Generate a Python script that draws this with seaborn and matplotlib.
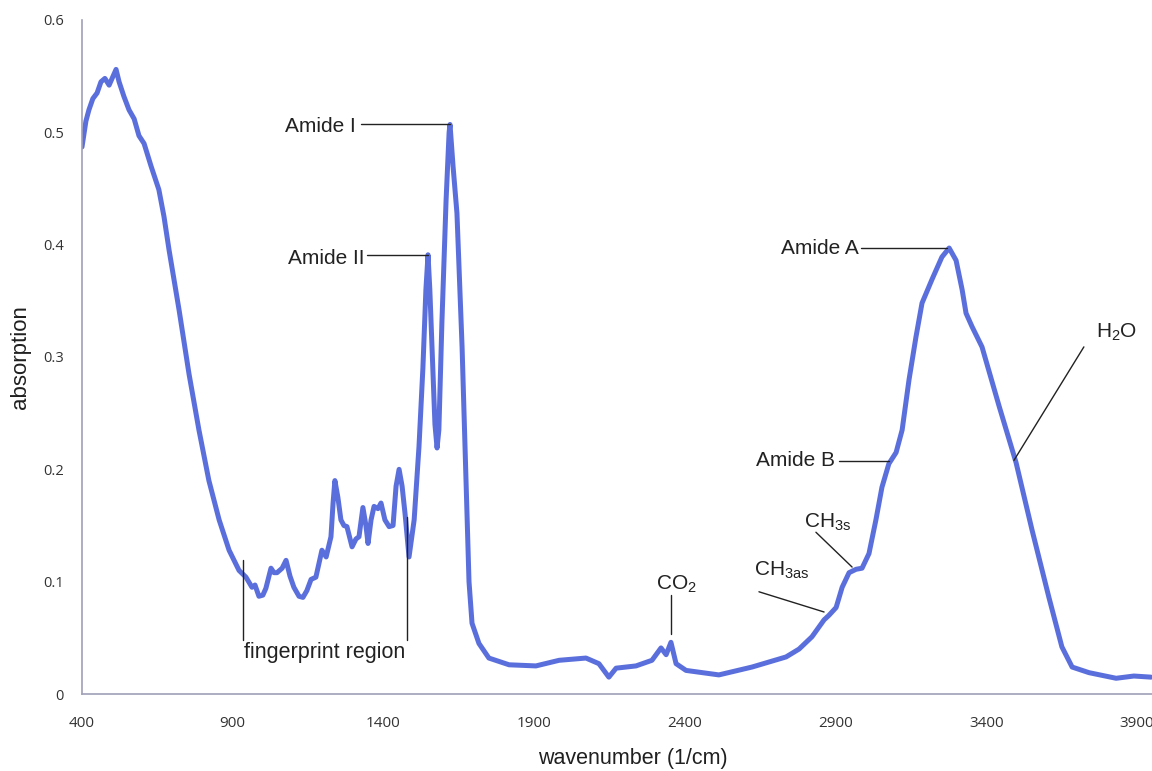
import matplotlib
matplotlib.use("Agg")
import matplotlib.pyplot as plt
import seaborn as sns
import pandas as pd

# ---- data ----
wavenumber = [400, 413, 423, 436, 450, 463, 476, 490, 503, 513, 523, 539, 556, 573, 589, 606,
              629, 655, 672, 689, 722, 755, 788, 821, 855, 888, 921, 944, 964, 974, 987, 1000,
              1010, 1027, 1037, 1047, 1064, 1077, 1090, 1103, 1120, 1133, 1146, 1160, 1176, 1196,
              1210, 1226, 1233, 1239, 1249, 1259, 1269, 1279, 1296, 1309, 1319, 1332, 1342, 1349,
              1359, 1369, 1382, 1392, 1405, 1419, 1432, 1442, 1452, 1462, 1472, 1485, 1502, 1518,
              1531, 1541, 1548, 1554, 1564, 1571, 1578, 1584, 1594, 1608, 1618, 1621, 1631, 1644,
              1661, 1674, 1684, 1694, 1717, 1750, 1817, 1906, 1983, 2072, 2115, 2148, 2172, 2238,
              2291, 2321, 2338, 2354, 2371, 2404, 2513, 2623, 2736, 2779, 2822, 2862, 2878, 2902,
              2922, 2945, 2968, 2988, 3011, 3034, 3054, 3077, 3101, 3121, 3144, 3167, 3187, 3220,
              3253, 3277, 3300, 3320, 3333, 3353, 3386, 3443, 3499, 3552, 3608, 3651, 3685, 3741,
              3831, 3890, 3947]
absorption = [0.487, 0.510, 0.520, 0.530, 0.535, 0.545, 0.548, 0.542, 0.550, 0.556, 0.545, 0.532,
              0.520, 0.512, 0.497, 0.490, 0.470, 0.449, 0.425, 0.395, 0.342, 0.285, 0.235, 0.190,
              0.155, 0.128, 0.110, 0.104, 0.095, 0.097, 0.087, 0.088, 0.094, 0.112, 0.108, 0.108,
              0.112, 0.119, 0.105, 0.095, 0.087, 0.086, 0.092, 0.102, 0.104, 0.128, 0.122, 0.140,
              0.170, 0.190, 0.175, 0.155, 0.150, 0.149, 0.131, 0.138, 0.140, 0.166, 0.150, 0.134,
              0.155, 0.167, 0.165, 0.170, 0.155, 0.149, 0.150, 0.185, 0.200, 0.185, 0.160, 0.122,
              0.155, 0.220, 0.290, 0.360, 0.391, 0.360, 0.290, 0.240, 0.219, 0.235, 0.330, 0.440,
              0.500, 0.507, 0.470, 0.428, 0.309, 0.190, 0.100, 0.063, 0.045, 0.032, 0.026, 0.025,
              0.030, 0.032, 0.027, 0.015, 0.023, 0.025, 0.030, 0.041, 0.035, 0.046, 0.027, 0.021,
              0.017, 0.024, 0.033, 0.040, 0.051, 0.066, 0.070, 0.077, 0.095, 0.108, 0.111, 0.112,
              0.125, 0.155, 0.184, 0.205, 0.215, 0.235, 0.280, 0.318, 0.348, 0.369, 0.389, 0.397,
              0.386, 0.360, 0.339, 0.327, 0.309, 0.256, 0.206, 0.146, 0.086, 0.042, 0.024, 0.019,
              0.014, 0.016, 0.015]

x_ticks = [400, 900, 1400, 1900, 2400, 2900, 3400, 3900]
y_ticks = [0, 0.1, 0.2, 0.3, 0.4, 0.5, 0.6]
y_tick_labels = ["0", "0.1", "0.2", "0.3", "0.4", "0.5", "0.6"]

df = pd.DataFrame({"wavenumber": wavenumber, "absorption": absorption})

# ---- styling ----
sns.set_style("white")
plt.rcParams["font.family"] = ["Liberation Sans", "DejaVu Sans"]
plt.rcParams["mathtext.default"] = "regular"

fig = plt.figure(figsize=(11.52, 7.71), dpi=100)
ax = fig.add_axes([82 / 1152, 1 - 694 / 771, (1152 - 82) / 1152, (694 - 20) / 771])

sns.lineplot(data=df, x="wavenumber", y="absorption", ax=ax, sort=False,
             color="#5b6fdc", linewidth=3.6, solid_joinstyle="round", solid_capstyle="round")

ax.set_xlim(400, 3950)
ax.set_ylim(0, 0.6)
ax.set_xticks(x_ticks)
ax.set_xticklabels([str(t) for t in x_ticks], fontsize=11, color="#333333", family="Open Sans")
ax.set_yticks(y_ticks)
ax.set_yticklabels(y_tick_labels, fontsize=10.5, color="#333333", family="Open Sans")
ax.tick_params(axis="x", direction="out", length=4, width=1, color="#9a9ab0", pad=12)
ax.tick_params(axis="y", direction="out", length=5, width=1, color="#9a9ab0", pad=8)

for side in ["top", "right"]:
    ax.spines[side].set_visible(False)
for side in ["left", "bottom"]:
    ax.spines[side].set_color("#a0a0b8")
    ax.spines[side].set_linewidth(1.2)

ax.set_xlabel("wavenumber (1/cm)", fontsize=15.5, color="#202020")
ax.xaxis.set_label_coords((633 - 82) / 1070, (694 - 748) / 674)
ax.set_ylabel("absorption", fontsize=16, color="#202020", labelpad=9)

# ---- annotations ----
ann_col = "#222222"
lw = 1.0
fs = 15

ax.text(1309, 0.505, "Amide I", ha="right", va="center", fontsize=fs, color=ann_col)
ax.plot([1326, 1621], [0.507, 0.507], color=ann_col, lw=lw)

ax.text(1336, 0.388, "Amide II", ha="right", va="center", fontsize=fs, color=ann_col)
ax.plot([1346, 1548], [0.391, 0.391], color=ann_col, lw=lw)

ax.plot([934, 934], [0.119, 0.048], color=ann_col, lw=lw)
ax.plot([1478, 1478], [0.158, 0.048], color=ann_col, lw=lw)
ax.text(936, 0.037, "fingerprint region", ha="left", va="center", fontsize=15.5, color=ann_col)

ax.text(2371, 0.098, "CO$_2$", ha="center", va="center", fontsize=fs, color=ann_col)
ax.plot([2354, 2354], [0.088, 0.053], color=ann_col, lw=lw)

ax.text(2630, 0.110, "CH$_{3as}$", ha="left", va="center", fontsize=fs, color=ann_col)
ax.plot([2646, 2862], [0.091, 0.073], color=ann_col, lw=lw)

ax.text(2796, 0.153, "CH$_{3s}$", ha="left", va="center", fontsize=fs, color=ann_col)
ax.plot([2835, 2955], [0.144, 0.113], color=ann_col, lw=lw)

ax.text(2898, 0.208, "Amide B", ha="right", va="center", fontsize=fs, color=ann_col)
ax.plot([2912, 3077], [0.207, 0.207], color=ann_col, lw=lw)

ax.text(2978, 0.397, "Amide A", ha="right", va="center", fontsize=fs, color=ann_col)
ax.plot([2985, 3270], [0.397, 0.397], color=ann_col, lw=lw)

ax.text(3764, 0.322, "H$_2$O", ha="left", va="center", fontsize=fs, color=ann_col)
ax.plot([3724, 3492], [0.309, 0.208], color=ann_col, lw=lw)

fig.savefig("out.png", dpi=100)
